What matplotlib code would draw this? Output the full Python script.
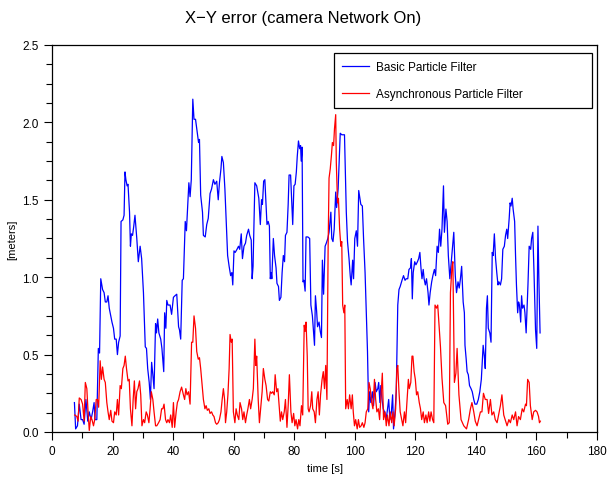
# =============================================================================
# Imports
# =============================================================================
import numpy as np
import matplotlib
matplotlib.use('Agg')
import matplotlib.pyplot as plt
from matplotlib.ticker import MultipleLocator

# =============================================================================
# Data
# =============================================================================
basic_t = [7.4, 7.8, 8.4, 9.0, 9.6, 10.1, 10.6, 11.2, 11.8, 12.3, 12.9, 13.4, 13.9, 14.2, 14.8,
           15.3, 15.7, 16.1, 16.7, 17.2, 17.6, 18.1, 18.5, 18.9, 19.4, 19.8, 20.3, 20.7, 21.2,
           21.6, 22.0, 22.5, 22.8, 23.4, 23.8, 24.1, 24.4, 24.8, 25.1, 25.6, 25.9, 26.2, 26.6,
           27.0, 27.4, 28.0, 28.5, 29.1, 29.6, 30.2, 30.8, 31.2, 31.6, 32.1, 32.5, 32.9, 33.3,
           33.7, 34.2, 34.5, 34.9, 35.3, 35.9, 36.3, 36.9, 37.2, 37.6, 37.9, 38.3, 39.0, 39.5,
           40.1, 40.6, 41.2, 41.8, 42.1, 42.5, 43.0, 43.4, 44.0, 44.4, 44.8, 45.2, 45.6, 46.0,
           46.5, 46.9, 47.4, 47.8, 48.4, 48.7, 49.1, 49.7, 50.0, 50.6, 51.1, 51.6, 52.2, 52.7,
           53.3, 53.8, 54.4, 54.9, 55.3, 55.8, 56.1, 56.6, 57.1, 57.5, 58.0, 58.5, 59.0, 59.4,
           59.7, 60.1, 60.5, 61.1, 61.6, 62.0, 62.5, 62.9, 63.4, 63.9, 64.3, 64.9, 65.3, 65.8,
           66.1, 66.4, 67.0, 67.6, 68.3, 68.8, 69.2, 69.5, 69.9, 70.3, 70.7, 71.0, 71.4, 71.8,
           72.1, 72.4, 72.6, 73.1, 73.5, 74.0, 74.3, 74.8, 75.1, 75.6, 76.0, 76.4, 76.8, 77.1,
           77.6, 78.0, 78.3, 78.8, 79.1, 79.5, 79.9, 80.3, 80.7, 81.0, 81.4, 81.8, 82.1, 82.3,
           82.6, 82.9, 83.2, 83.6, 83.9, 84.5, 85.1, 85.5, 86.0, 86.4, 86.7, 87.0, 87.4, 87.7,
           88.2, 88.6, 89.0, 89.3, 89.7, 90.2, 90.6, 91.1, 91.5, 92.1, 92.4, 92.8, 93.2, 93.7,
           94.0, 94.5, 94.9, 95.2, 95.7, 96.1, 96.6, 96.8, 97.2, 97.6, 98.1, 98.5, 98.8, 99.3,
           99.6, 100.0, 100.5, 100.9, 101.3, 101.7, 102.0, 102.5, 102.9, 103.4, 103.8, 104.2,
           104.6, 104.9, 105.3, 105.8, 106.2, 106.7, 107.1, 107.6, 107.9, 108.3, 108.6, 109.0,
           109.4, 109.8, 110.3, 110.7, 111.2, 111.6, 112.1, 112.5, 112.8, 113.3, 113.7, 114.2,
           114.6, 115.0, 115.6, 116.1, 116.6, 117.0, 117.5, 117.9, 118.4, 118.7, 119.0, 119.3,
           119.8, 120.2, 120.7, 121.1, 121.5, 121.9, 122.2, 122.6, 122.9, 123.3, 123.7, 124.2,
           124.5, 124.9, 125.4, 125.8, 126.3, 126.7, 127.2, 127.6, 128.0, 128.4, 128.8, 129.3,
           129.6, 130.1, 130.5, 130.9, 131.4, 131.8, 132.3, 132.7, 133.2, 133.6, 134.1, 134.5,
           134.9, 135.3, 135.8, 136.2, 136.4, 136.8, 137.1, 137.5, 137.9, 138.4, 138.8, 139.3,
           139.7, 140.3, 140.8, 141.3, 141.8, 142.4, 142.8, 143.1, 143.5, 143.8, 144.1, 144.6,
           145.0, 145.4, 145.7, 146.1, 146.5, 146.9, 147.3, 147.6, 148.1, 148.5, 148.9, 149.4,
           149.8, 150.2, 150.5, 151.0, 151.3, 151.6, 152.0, 152.3, 152.8, 153.1, 153.4, 153.8,
           154.1, 154.4, 154.8, 155.1, 155.4, 155.9, 156.2, 156.6, 157.2, 157.6, 158.1, 158.4,
           158.8, 159.2, 159.7, 160.1, 160.5, 160.8, 161.2]
basic_err = [0.19, 0.02, 0.04, 0.18, 0.08, 0.08, 0.05, 0.21, 0.07, 0.13, 0.08, 0.13, 0.19, 0.08, 0.08,
             0.54, 0.51, 0.99, 0.92, 0.90, 0.84, 0.84, 0.88, 0.80, 0.75, 0.71, 0.67, 0.60, 0.60,
             0.50, 0.58, 0.62, 1.36, 1.37, 1.40, 1.68, 1.63, 1.59, 1.60, 1.42, 1.20, 1.28, 1.27,
             1.33, 1.40, 1.25, 1.10, 1.20, 1.12, 0.90, 0.55, 0.54, 0.41, 0.32, 0.21, 0.45, 0.37,
             0.28, 0.70, 0.64, 0.73, 0.64, 0.60, 0.54, 0.39, 0.77, 0.67, 0.85, 0.82, 0.82, 0.76,
             0.87, 0.88, 0.89, 0.68, 0.66, 0.60, 0.98, 0.99, 1.36, 1.30, 1.45, 1.61, 1.52, 1.63,
             2.15, 2.02, 2.02, 1.96, 1.87, 1.89, 1.53, 1.42, 1.27, 1.26, 1.34, 1.38, 1.54, 1.57,
             1.63, 1.60, 1.62, 1.50, 1.61, 1.70, 1.78, 1.74, 1.57, 1.38, 1.14, 1.07, 1.01, 1.03,
             0.95, 1.17, 1.16, 1.18, 1.20, 1.18, 1.28, 1.12, 1.20, 1.22, 1.27, 1.31, 1.27, 1.24,
             0.99, 1.07, 1.61, 1.59, 1.51, 1.34, 1.50, 1.47, 1.62, 1.63, 1.47, 1.34, 1.36, 1.33,
             0.99, 1.03, 0.99, 1.25, 1.14, 1.06, 0.96, 0.94, 0.85, 0.87, 1.03, 1.14, 1.10, 1.27,
             1.29, 1.47, 1.66, 1.66, 1.52, 1.34, 1.59, 1.60, 1.68, 1.78, 1.88, 1.83, 1.85, 1.75,
             1.84, 0.97, 0.98, 0.91, 1.26, 1.26, 1.25, 0.82, 0.75, 0.64, 0.56, 0.88, 0.78, 0.68,
             0.71, 0.65, 0.61, 1.11, 0.89, 1.20, 1.22, 1.25, 1.29, 1.42, 1.25, 1.23, 1.31, 1.55,
             1.45, 1.57, 1.77, 1.93, 1.92, 1.92, 1.92, 1.75, 1.42, 1.23, 1.12, 1.01, 0.95, 1.11,
             0.99, 1.25, 1.30, 1.20, 1.56, 1.51, 1.47, 1.46, 1.25, 1.03, 0.77, 0.52,
             0.13, 0.26, 0.19, 0.26, 0.17, 0.32, 0.26, 0.28, 0.32, 0.19, 0.30, 0.21,
             0.15, 0.13, 0.08, 0.13, 0.21, 0.08, 0.13, 0.24, 0.02, 0.13, 0.26, 0.82,
             0.92, 0.94, 0.98, 1.01, 0.98, 0.99, 0.99, 1.05, 1.06, 1.12, 0.86, 1.03,
             1.10, 1.08, 1.10, 1.12, 1.16, 1.05, 0.99, 1.05, 0.99, 0.95, 0.99, 0.90,
             0.82, 0.90, 0.97, 1.01, 1.05, 1.01, 1.20, 1.16, 1.31, 1.20, 1.31, 1.59,
             1.29, 1.44, 1.36, 1.14, 0.99, 1.08, 1.20, 1.29, 1.01, 0.90, 0.97, 0.93,
             0.99, 1.07, 0.84, 0.77, 0.56, 0.47, 0.39, 0.37, 0.30, 0.28, 0.26, 0.21,
             0.18, 0.18, 0.21, 0.26, 0.34, 0.56, 0.49, 0.41, 0.80, 0.88, 0.67, 0.64,
             0.58, 1.16, 1.14, 1.28, 1.12, 1.03, 0.95, 0.97, 0.95, 0.99, 1.18, 1.20,
             1.27, 1.31, 1.25, 1.38, 1.48, 1.46, 1.51, 1.44, 1.36, 1.14, 0.95, 0.77,
             0.84, 0.82, 0.71, 0.88, 0.80, 0.82, 0.77, 0.64, 0.95, 1.20, 1.18, 1.25,
             1.29, 1.03, 0.66, 0.54, 1.33, 0.99, 0.64]

async_t = [7.5, 8.2, 8.6, 9.0, 9.6, 10.1, 10.6, 11.0, 11.5, 11.9, 12.3, 12.8, 13.2, 13.7, 14.1,
           14.6, 15.0, 15.4, 15.9, 16.3, 16.7, 17.2, 17.6, 18.1, 18.5, 18.9, 19.4, 19.8, 20.3,
           20.7, 21.2, 21.6, 22.0, 22.5, 22.9, 23.4, 23.8, 24.2, 24.6, 25.1, 25.5, 25.9, 26.4,
           26.8, 27.2, 27.6, 28.0, 28.4, 28.9, 29.3, 29.7, 30.2, 30.6, 31.1, 31.5, 32.0, 32.4,
           32.8, 33.3, 33.7, 34.2, 34.6, 35.2, 35.7, 36.2, 36.6, 37.0, 37.5, 37.9, 38.3, 38.8,
           39.2, 39.7, 40.1, 40.5, 41.0, 41.4, 41.8, 42.3, 42.8, 43.4, 43.8, 44.2, 44.6, 45.1,
           45.6, 46.1, 46.5, 46.9, 47.4, 47.8, 48.3, 48.7, 49.1, 49.6, 50.0, 50.5, 50.9, 51.3,
           51.8, 52.2, 52.7, 53.1, 53.5, 54.0, 54.4, 54.9, 55.3, 55.8, 56.2, 56.6, 57.0, 57.3,
           57.7, 58.1, 58.5, 58.8, 59.2, 59.5, 59.9, 60.4, 60.8, 61.2, 61.7, 62.1, 62.6, 63.0,
           63.4, 63.9, 64.3, 64.7, 65.2, 65.6, 66.1, 66.5, 67.0, 67.3, 67.6, 68.1, 68.5, 68.9,
           69.4, 69.8, 70.3, 70.7, 71.2, 71.6, 72.1, 72.5, 72.9, 73.4, 73.7, 74.2, 74.6, 75.0,
           75.4, 75.8, 76.2, 76.7, 77.1, 77.6, 78.0, 78.4, 78.9, 79.3, 79.8, 80.2, 80.6, 81.1,
           81.5, 81.9, 82.4, 82.8, 83.3, 83.6, 83.9, 84.3, 84.6, 84.9, 85.4, 85.8, 86.1, 86.6,
           87.0, 87.5, 87.9, 88.3, 88.7, 89.2, 89.6, 90.0, 90.4, 90.8, 91.2, 91.5, 91.9, 92.3,
           92.6, 93.0, 93.3, 93.7, 93.9, 94.3, 94.6, 95.0, 95.4, 95.7, 96.0, 96.4, 96.7, 97.0,
           97.5, 97.9, 98.3, 98.8, 99.2, 99.5, 99.9, 100.3, 100.8, 101.2, 101.6, 102.1, 102.5,
           103.0, 103.4, 103.8, 104.3, 104.7, 105.1, 105.6, 106.0, 106.5, 106.9, 107.3, 107.8,
           108.2, 108.6, 109.1, 109.5, 110.0, 110.4, 110.8, 111.3, 111.7, 112.2, 112.6, 113.0,
           113.5, 113.9, 114.2, 114.6, 115.0, 115.5, 115.9, 116.4, 116.8, 117.3, 117.7, 118.0,
           118.5, 118.9, 119.2, 119.6, 120.0, 120.4, 120.8, 121.3, 121.7, 122.1, 122.6, 123.0,
           123.5, 123.9, 124.4, 124.8, 125.2, 125.7, 126.1, 126.5, 127.0, 127.4, 127.8, 128.3,
           128.8, 129.4, 130.0, 130.7, 131.2, 131.6, 132.1, 132.4, 132.9, 133.4, 133.8, 134.4,
           135.1, 136.0, 136.9, 137.6, 138.2, 138.7, 139.3, 139.8, 140.4, 140.9, 141.5, 142.0,
           142.5, 143.1, 143.7, 144.2, 144.8, 145.3, 145.9, 146.4, 147.0, 147.5, 148.1, 148.6,
           149.2, 150.3, 150.9, 151.4, 152.0, 152.5, 153.1, 153.6, 154.1, 154.7, 155.3, 155.8,
           156.4, 156.7, 157.1, 157.6, 158.0, 158.6, 159.1, 159.7, 160.2, 160.7, 161.0, 161.3]
async_err = [0.11, 0.10, 0.07, 0.22, 0.21, 0.18, 0.07, 0.32, 0.28, 0.13, 0.01, 0.10, 0.08, 0.04, 0.08,
             0.21, 0.21, 0.16, 0.46, 0.34, 0.42, 0.34, 0.32, 0.19, 0.13, 0.08, 0.14, 0.07, 0.06,
             0.13, 0.11, 0.21, 0.11, 0.30, 0.28, 0.41, 0.43, 0.49, 0.41, 0.33, 0.34, 0.15, 0.04,
             0.21, 0.33, 0.15, 0.26, 0.28, 0.33, 0.24, 0.04, 0.08, 0.06, 0.13, 0.11, 0.06, 0.15,
             0.26, 0.21, 0.13, 0.04, 0.04, 0.06, 0.08, 0.15, 0.15, 0.18, 0.08, 0.06, 0.08, 0.06,
             0.11, 0.03, 0.19, 0.03, 0.13, 0.19, 0.21, 0.26, 0.29, 0.24, 0.21, 0.28, 0.24, 0.26,
             0.18, 0.58, 0.58, 0.75, 0.67, 0.52, 0.47, 0.48, 0.41, 0.30, 0.21, 0.15, 0.17, 0.14,
             0.15, 0.12, 0.13, 0.11, 0.10, 0.06, 0.05, 0.06, 0.08, 0.13, 0.21, 0.28, 0.21, 0.06,
             0.13, 0.24, 0.41, 0.63, 0.58, 0.60, 0.13, 0.06, 0.15, 0.11, 0.08, 0.19, 0.15, 0.08,
             0.13, 0.06, 0.11, 0.15, 0.21, 0.15, 0.21, 0.28, 0.60, 0.43, 0.49, 0.21, 0.06, 0.15,
             0.26, 0.41, 0.34, 0.30, 0.21, 0.20, 0.26, 0.25, 0.26, 0.24, 0.37, 0.26, 0.28, 0.17,
             0.07, 0.13, 0.08, 0.13, 0.21, 0.03, 0.17, 0.37, 0.13, 0.06, 0.12, 0.04, 0.08, 0.02,
             0.08, 0.04, 0.17, 0.11, 0.69, 0.65, 0.71, 0.49, 0.15, 0.13, 0.17, 0.26, 0.15, 0.13,
             0.06, 0.21, 0.26, 0.11, 0.24, 0.34, 0.39, 0.28, 0.43, 0.21, 1.20, 1.64, 1.70, 1.79,
             1.87, 1.85, 1.96, 2.05, 1.74, 1.48, 1.51, 1.31, 1.20, 1.23, 0.82, 0.77, 0.82, 0.15,
             0.21, 0.15, 0.24, 0.15, 0.24, 0.13, 0.04, 0.08, 0.02, 0.08, 0.03, 0.04, 0.06,
             0.03, 0.06, 0.13, 0.15, 0.32, 0.28, 0.19, 0.15, 0.34, 0.21, 0.13, 0.15,
             0.08, 0.21, 0.38, 0.08, 0.13, 0.04, 0.11, 0.04, 0.13, 0.06, 0.13, 0.04,
             0.15, 0.41, 0.43, 0.26, 0.13, 0.08, 0.04, 0.13, 0.06, 0.21, 0.34, 0.28,
             0.32, 0.49, 0.49, 0.39, 0.34, 0.24, 0.26, 0.19, 0.15, 0.08, 0.13, 0.06,
             0.11, 0.06, 0.13, 0.07, 0.13, 0.08, 0.06, 0.82, 0.80, 0.82, 0.70, 0.55,
             0.35, 0.19, 0.17, 0.05, 0.06, 0.90, 1.07, 1.10, 0.32, 0.38, 0.54, 0.24,
             0.08, 0.04, 0.02, 0.08, 0.15, 0.19, 0.13, 0.07, 0.04, 0.08, 0.13, 0.13,
             0.25, 0.21, 0.21, 0.12, 0.21, 0.11, 0.13, 0.08, 0.06, 0.11, 0.17, 0.24,
             0.11, 0.04, 0.08, 0.06, 0.11, 0.08, 0.13, 0.04, 0.10, 0.08, 0.15, 0.13,
             0.18, 0.17, 0.34, 0.32, 0.17, 0.08, 0.13, 0.14, 0.13, 0.10, 0.06, 0.07]

labels = ['Basic Particle Filter', 'Asynchronous Particle Filter']
title = 'X\u2212Y error (camera Network On)'

# =============================================================================
# Plot
# =============================================================================
plt.rcParams['font.family'] = ['Liberation Sans', 'DejaVu Sans']

fig = plt.figure(figsize=(6.07, 4.81), dpi=100)
ax = fig.add_axes([0.0857, 0.0998, 0.8978, 0.8046])

ax.plot(basic_t, basic_err, color='#0000ff', lw=0.9, label=labels[0])
ax.plot(async_t, async_err, color='#ff0000', lw=0.9, label=labels[1])

ax.set_xlim(0, 180)
ax.set_ylim(0, 2.5)
ax.xaxis.set_major_locator(MultipleLocator(20))
ax.xaxis.set_minor_locator(MultipleLocator(10))
ax.yaxis.set_major_locator(MultipleLocator(0.5))
ax.yaxis.set_minor_locator(MultipleLocator(0.125))
ax.yaxis.set_major_formatter(plt.FuncFormatter(lambda v, p: f'{v:.1f}'))
ax.tick_params(which='both', direction='out', top=False, right=False, labelsize=8.5, width=0.8)
ax.tick_params(which='major', length=6)
ax.tick_params(which='minor', length=4)
for s in ax.spines.values():
    s.set_linewidth(0.9)

ax.set_xlabel('time [s]', fontsize=8)
ax.set_ylabel('[meters]', fontsize=8)
fig.suptitle(title, fontsize=12, y=0.978)

# wide legend box, entries kept to the left (as in the reference)
leg = ax.legend(loc='upper left', mode='expand', fontsize=8.5, frameon=True, fancybox=False,
                borderpad=0.7, labelspacing=1.25, handlelength=2.3, handletextpad=0.55,
                bbox_to_anchor=(0.517, 0.0, 0.473, 0.979), borderaxespad=0)
leg.get_frame().set_edgecolor('black')
leg.get_frame().set_linewidth(0.9)
leg.get_frame().set_alpha(1)

fig.savefig('out.png', dpi=100)
